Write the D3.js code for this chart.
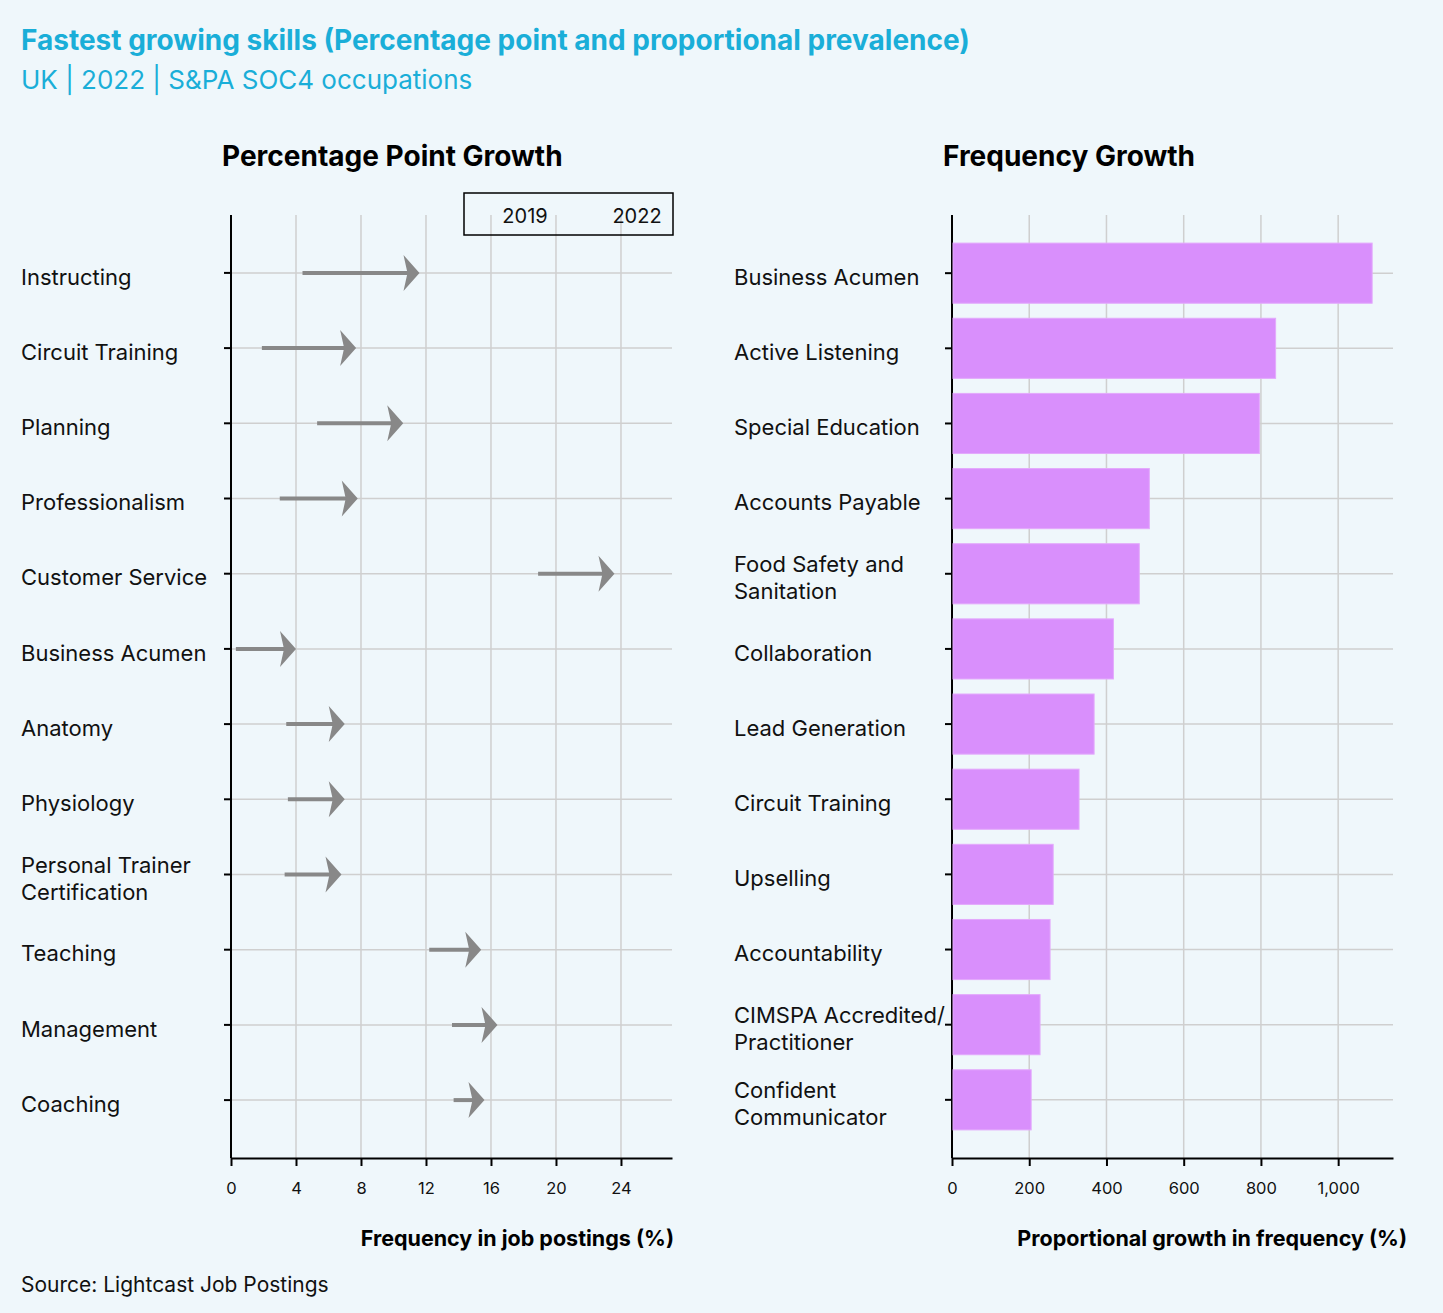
<!DOCTYPE html>
<html lang="en">
<head>
  <meta charset="UTF-8">
  <title>Fastest growing skills</title>
  <style>
    body { margin: 0; background: #eff7fb; }
    svg { display: block; font-family: "Inter", "Noto Sans", sans-serif; }
  </style>
</head>
<body>
  <svg width="1443" height="1313"></svg>
  <script src="https://d3js.org/d3.v7.min.js"></script>
  <script>
    // left panel: percentage point growth (2019 -> 2022)
    const ppSkills = ["Instructing", "Circuit Training", "Planning", "Professionalism", "Customer Service",
      "Business Acumen", "Anatomy", "Physiology", "Personal Trainer|Certification", "Teaching", "Management", "Coaching"];
    const pp2019 = [4.4, 1.9, 5.3, 3.0, 18.9, 0.3, 3.4, 3.5, 3.3, 12.2, 13.6, 13.7];
    const pp2022 = [11.6, 7.7, 10.6, 7.8, 23.6, 4.0, 7.0, 7.0, 6.8, 15.4, 16.4, 15.6];
    const ppTicks = [0, 4, 8, 12, 16, 20, 24];

    // right panel: proportional growth in frequency (%)
    const fgSkills = ["Business Acumen", "Active Listening", "Special Education", "Accounts Payable",
      "Food Safety and|Sanitation", "Collaboration", "Lead Generation", "Circuit Training", "Upselling",
      "Accountability", "CIMSPA Accredited/|Practitioner", "Confident|Communicator"];
    const fgValues = [1088, 838, 796, 511, 485, 418, 368, 329, 262, 254, 228, 205];
    const fgTicks = [0, 200, 400, 600, 800, 1000];

    const svg = d3.select("svg");
    const plotTop = 215, plotBottom = 1158;
    const gridColor = "#cfcfcf";

    // titles
    svg.append("text").attr("x", 21).attr("y", 50)
      .attr("font-size", 28).attr("font-weight", 700).attr("fill", "#1aaed8")
      .text("Fastest growing skills (Percentage point and proportional prevalence)");
    svg.append("text").attr("x", 21).attr("y", 89)
      .attr("font-size", 26).attr("fill", "#1aaed8")
      .text("UK | 2022 | S&PA SOC4 occupations");
    svg.append("text").attr("x", 21).attr("y", 1292)
      .attr("font-size", 21).attr("fill", "#111")
      .text("Source: Lightcast Job Postings");

    function drawLabels(g, scale, names, x) {
      names.forEach(n => {
        const lines = n.split("|");
        const t = g.append("text").attr("x", x).attr("font-size", 22).attr("fill", "#111");
        lines.forEach((l, i) => {
          t.append("tspan").attr("x", x)
            .attr("y", scale(n) + 4 + (i - (lines.length - 1) / 2) * 27)
            .attr("dy", "0.35em").text(l);
        });
      });
    }

    function drawFrame(g, x, y, ticks, fmt, names, labelX, panelTitle, axisTitle, titleX, axisTitleX) {
      const [x0, x1] = x.range();
      // grid
      g.append("g").selectAll("line").data(ticks.slice(1)).join("line")
        .attr("x1", d => x(d)).attr("x2", d => x(d)).attr("y1", plotTop).attr("y2", plotBottom)
        .attr("stroke", gridColor).attr("stroke-width", 1.5);
      g.append("g").selectAll("line").data(names).join("line")
        .attr("x1", x0).attr("x2", x1).attr("y1", d => y(d)).attr("y2", d => y(d))
        .attr("stroke", gridColor).attr("stroke-width", 1.5);

      // bottom axis
      const ax = g.append("g").attr("transform", `translate(0,${plotBottom})`)
        .call(d3.axisBottom(x).tickValues(ticks).tickFormat(fmt).tickSize(8).tickPadding(16).tickSizeOuter(0));
      ax.select(".domain").attr("stroke", "#000").attr("stroke-width", 2);
      ax.selectAll(".tick line").attr("stroke", "#000").attr("stroke-width", 2);
      ax.selectAll(".tick text").attr("font-size", 16.5).attr("fill", "#111").attr("font-family", "Inter, sans-serif");

      // left axis line + ticks
      g.append("line").attr("x1", x0).attr("x2", x0).attr("y1", plotTop).attr("y2", plotBottom)
        .attr("stroke", "#000").attr("stroke-width", 2);
      g.append("g").selectAll("line").data(names).join("line")
        .attr("x1", x0 - 7).attr("x2", x0).attr("y1", d => y(d)).attr("y2", d => y(d))
        .attr("stroke", "#000").attr("stroke-width", 2);

      drawLabels(g, y, names, labelX);

      g.append("text").attr("x", titleX).attr("y", 166)
        .attr("font-size", 28).attr("font-weight", 700).attr("fill", "#000").text(panelTitle);
      g.append("text").attr("x", axisTitleX).attr("y", 1246).attr("text-anchor", "end")
        .attr("font-size", 21.5).attr("font-weight", 700).attr("fill", "#000").text(axisTitle);
    }

    // ---- left panel
    const xL = d3.scaleLinear().domain([0, 27.14]).range([231, 672]);
    const yL = d3.scalePoint().domain(ppSkills).range([plotTop, plotBottom]).padding(0.77);
    const gL = svg.append("g");
    drawFrame(gL, xL, yL, ppTicks, d3.format("d"), ppSkills, 21,
      "Percentage Point Growth", "Frequency in job postings  (%)", 222, 674);

    const arrowColor = "#888888";
    ppSkills.forEach((s, i) => {
      const yy = yL(s), xs = xL(pp2019[i]), xe = xL(pp2022[i]);
      gL.append("line").attr("x1", xs).attr("x2", xe - 8).attr("y1", yy).attr("y2", yy)
        .attr("stroke", arrowColor).attr("stroke-width", 4);
      gL.append("path")
        .attr("d", `M${xe},${yy} L${xe - 16},${yy - 18} L${xe - 12},${yy} L${xe - 16},${yy + 18} Z`)
        .attr("fill", arrowColor);
    });

    // legend box
    gL.append("rect").attr("x", 464).attr("y", 193).attr("width", 209).attr("height", 42)
      .attr("fill", "none").attr("stroke", "#000").attr("stroke-width", 1.5);
    gL.append("text").attr("x", 525).attr("y", 216).attr("dy", "0.35em").attr("text-anchor", "middle")
      .attr("font-size", 20).attr("fill", "#111").text("2019");
    gL.append("text").attr("x", 637).attr("y", 216).attr("dy", "0.35em").attr("text-anchor", "middle")
      .attr("font-size", 20).attr("fill", "#111").text("2022");

    // ---- right panel
    const xR = d3.scaleLinear().domain([0, 1142]).range([952, 1393]);
    const yR = d3.scaleBand().domain(fgSkills).range([plotTop, plotBottom]).paddingInner(0.2).paddingOuter(0.374);
    const yRc = s => yR(s) + yR.bandwidth() / 2;
    const gR = svg.append("g");
    drawFrame(gR, xR, yRc, fgTicks, d3.format(","), fgSkills, 734,
      "Frequency Growth", "Proportional growth in frequency  (%)", 943, 1407);

    gR.selectAll("rect.bar").data(fgSkills).join("rect").attr("class", "bar")
      .attr("x", xR(0) + 1).attr("y", d => yR(d))
      .attr("width", (d, i) => xR(fgValues[i]) - xR(0) - 1)
      .attr("height", yR.bandwidth())
      .attr("fill", "#d98ffc").attr("stroke", "#e3a9fc").attr("stroke-width", 1);
  </script>
</body>
</html>
